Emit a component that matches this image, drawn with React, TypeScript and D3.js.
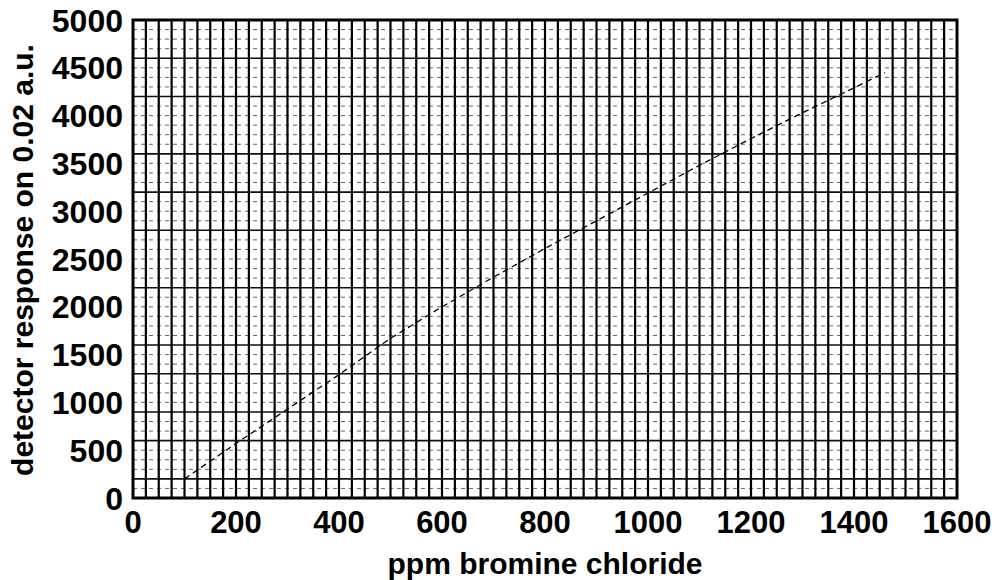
import React from "react";
import * as d3 from "d3";

const xTicks = [0, 200, 400, 600, 800, 1000, 1200, 1400, 1600];
const yTicks = [0, 500, 1000, 1500, 2000, 2500, 3000, 3500, 4000, 4500, 5000];
const xGridStep = 25;
const yGridStep = 100;
const ySolidGrid = [200, 600, 900, 1300, 1600, 2200, 2800, 3200, 3600, 4200, 4600];
const ppm = [100, 200, 300, 400, 500, 600, 700, 800, 900, 1000, 1100, 1200, 1300, 1400, 1460];
const response = [200, 570, 930, 1290, 1670, 2000, 2310, 2610, 2900, 3190, 3480, 3760, 4030, 4290, 4450];

const W = 994, H = 580;
const M = { left: 133, right: 957, top: 20, bottom: 498 };
const font = "'Liberation Sans', Arial, sans-serif";

export default function App() {
  const x = d3.scaleLinear().domain([0, 1600]).range([M.left, M.right]);
  const y = d3.scaleLinear().domain([0, 5000]).range([M.bottom, M.top]);
  const xGrid = d3.range(xGridStep, 1600, xGridStep);
  const yGrid = d3.range(yGridStep, 5000, yGridStep);
  const line = d3.line<number>().x((_, i) => x(ppm[i])).y((d) => y(d));
  return (
    <svg width={W} height={H} style={{ position: "absolute", left: 0, top: 0, background: "#fff" }}>
      <rect x={0} y={0} width={W} height={H} fill="#fff" />
      {yGrid.map((v) => (
        <line key={"h" + v} x1={M.left} x2={M.right} y1={y(v)} y2={y(v)}
          stroke={ySolidGrid.includes(v) ? "#111" : "#555"} strokeWidth={ySolidGrid.includes(v) ? 1.6 : 0.9}
          strokeDasharray={ySolidGrid.includes(v) ? undefined : "4,4"} />
      ))}
      {xGrid.map((v) => (
        <line key={"v" + v} x1={x(v)} x2={x(v)} y1={M.top} y2={M.bottom} stroke="#000" strokeWidth={2.2} />
      ))}
      <path d={line(response) || ""} fill="none" stroke="#000" strokeWidth={1.3} strokeDasharray="6,4" />
      <rect x={M.left} y={M.top} width={M.right - M.left} height={M.bottom - M.top} fill="none" stroke="#000" strokeWidth={3} />
      {xTicks.map((v) => (
        <text key={"xt" + v} x={x(v)} y={533} textAnchor="middle" fontFamily={font} fontWeight="bold" fontSize={31} fill="#000">{v}</text>
      ))}
      {yTicks.map((v) => (
        <text key={"yt" + v} x={123} y={y(v) + 11.5} textAnchor="end" fontFamily={font} fontWeight="bold" fontSize={32} fill="#000">{v}</text>
      ))}
      <text x={545} y={574} textAnchor="middle" fontFamily={font} fontWeight="bold" fontSize={30} fill="#000">ppm bromine chloride</text>
      <text transform={`translate(33,260) rotate(-90)`} textAnchor="middle" fontFamily={font} fontWeight="bold" fontSize={30} fill="#000">detector response on 0.02 a.u.</text>
    </svg>
  );
}
